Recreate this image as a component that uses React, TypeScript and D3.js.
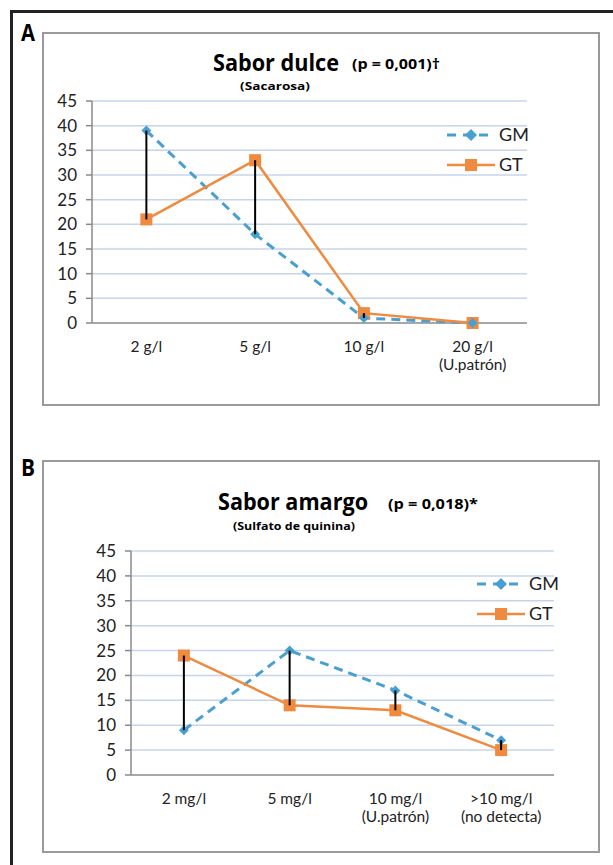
import React from "react";
import { scaleBand, scaleLinear, line } from "d3";

// panel A – sabor dulce
const categoriesA = [["2 g/l"], ["5 g/l"], ["10 g/l"], ["20 g/l", "(U.patrón)"]];
const gmA = [39, 18, 1, 0];
const gtA = [21, 33, 2, 0];

// panel B – sabor amargo
const categoriesB = [["2 mg/l"], ["5 mg/l"], ["10 mg/l", "(U.patrón)"], [">10 mg/l", "(no detecta)"]];
const gmB = [9, 25, 17, 7];
const gtB = [24, 14, 13, 5];

const yTicks = [0, 5, 10, 15, 20, 25, 30, 35, 40, 45];
const seriesNames = ["GM", "GT"];

const BLUE = "#4a9fd2";
const ORANGE = "#ef8a3f";
const GRID = "#c6d4ea";
const AXIS = "#8a8a8a";
const FONT = "Lato, 'Open Sans', sans-serif";
const BOLD = "'Open Sans', Lato, sans-serif";

// bold condensed text squeezed to the measured width
function Squeezed({ x, y, size, width, children }) {
  return (
    <text x={x} y={y} fontFamily={BOLD} fontWeight="bold" fontSize={size} textLength={width} lengthAdjust="spacingAndGlyphs">
      {children}
    </text>
  );
}

function Panel({ letter, letterPos, box, plot, title, pval, sub, cats, gm, gt, legend }) {
  const x = scaleBand().domain(cats.map((c, i) => i)).range([plot.left, plot.right]);
  const y = scaleLinear().domain([0, 45]).range([plot.bottom, plot.top]);
  const cx = (i) => x(i) + x.bandwidth() / 2;
  const path = line().x((d, i) => cx(i)).y((d) => y(d));

  return (
    <g>
      <Squeezed x={letterPos[0]} y={letterPos[1]} size={24} width={14}>{letter}</Squeezed>
      <rect x={box.x} y={box.y} width={box.w} height={box.h} fill="#fff" stroke="#9a9a9a" strokeWidth={2} />
      <Squeezed x={title.x} y={title.y} size={24} width={title.w}>{title.text}</Squeezed>
      <Squeezed x={pval.x} y={pval.y} size={15} width={pval.w}>{pval.text}</Squeezed>
      <Squeezed x={sub.x} y={sub.y} size={11} width={sub.w}>{sub.text}</Squeezed>

      {yTicks.map((t) => (
        <g key={t}>
          {t > 0 && <line x1={plot.left} x2={plot.right} y1={y(t)} y2={y(t)} stroke={GRID} strokeWidth={1.5} />}
          <line x1={plot.left - 6} x2={plot.left} y1={y(t)} y2={y(t)} stroke={AXIS} strokeWidth={1.5} />
          <text x={plot.left - 15} y={y(t)} dy="0.35em" textAnchor="end" fontFamily={FONT} fontSize={17} fill="#222">{t}</text>
        </g>
      ))}
      <line x1={plot.left} x2={plot.left} y1={plot.top} y2={plot.bottom} stroke={AXIS} strokeWidth={1.5} />
      <line x1={plot.left} x2={plot.right} y1={plot.bottom} y2={plot.bottom} stroke={AXIS} strokeWidth={1.5} />

      {cats.map((c, i) => (
        <text key={i} x={cx(i)} y={plot.bottom + 29} textAnchor="middle" fontFamily={FONT} fontSize={15.5} fill="#222">
          {c.map((l, j) => (
            <tspan key={j} x={cx(i)} dy={j === 0 ? 0 : 18}>{l}</tspan>
          ))}
        </text>
      ))}

      <path d={path(gm)} fill="none" stroke={BLUE} strokeWidth={3} strokeDasharray="9,6" />
      <path d={path(gt)} fill="none" stroke={ORANGE} strokeWidth={2.5} />

      {gt.map((v, i) => (
        <rect key={i} x={cx(i) - 6} y={y(v) - 6} width={12} height={12} fill={ORANGE} />
      ))}
      {gm.map((v, i) => (
        <path key={i} d={`M${cx(i)},${y(v) - 5}l5,5l-5,5l-5,-5z`} fill={BLUE} />
      ))}
      {gm.map((v, i) => (
        <line key={i} x1={cx(i)} x2={cx(i)} y1={y(v)} y2={y(gt[i])} stroke="#000" strokeWidth={2} />
      ))}

      {/* legend */}
      <g transform={`translate(${legend[0]},${legend[1]})`}>
        <line x1={0} x2={48} y1={0} y2={0} stroke={BLUE} strokeWidth={3} strokeDasharray="9,7" />
        <path d="M24,-6l6,6l-6,6l-6,-6z" fill={BLUE} />
        <text x={52} y={0} dy="0.35em" fontFamily={FONT} fontSize={18} fill="#222">{seriesNames[0]}</text>
        <line x1={0} x2={48} y1={30} y2={30} stroke={ORANGE} strokeWidth={2.5} />
        <rect x={18} y={24} width={12} height={12} fill={ORANGE} />
        <text x={52} y={30} dy="0.35em" fontFamily={FONT} fontSize={18} fill="#222">{seriesNames[1]}</text>
      </g>
    </g>
  );
}

export default function App() {
  return (
    <svg width={613} height={865} style={{ position: "absolute", left: 0, top: 0, background: "#fff" }}>
      <rect x={11.5} y={11.5} width={640} height={900} fill="#fff" stroke="#222" strokeWidth={3} />
      <Panel
        letter="A"
        letterPos={[21, 41]}
        box={{ x: 43, y: 33, w: 556, h: 372 }}
        plot={{ left: 92, right: 527, top: 101, bottom: 323 }}
        title={{ x: 213, y: 71, w: 126, text: "Sabor dulce" }}
        pval={{ x: 352, y: 69, w: 88, text: "(p = 0,001)†" }}
        sub={{ x: 240, y: 90, w: 70, text: "(Sacarosa)" }}
        cats={categoriesA}
        gm={gmA}
        gt={gtA}
        legend={[447, 135]}
      />
      <Panel
        letter="B"
        letterPos={[21, 476]}
        box={{ x: 43, y: 461, w: 556, h: 391 }}
        plot={{ left: 131, right: 554, top: 551, bottom: 775 }}
        title={{ x: 218, y: 510, w: 150, text: "Sabor amargo" }}
        pval={{ x: 388, y: 509, w: 90, text: "(p = 0,018)*" }}
        sub={{ x: 233, y: 530, w: 122, text: "(Sulfato de quinina)" }}
        cats={categoriesB}
        gm={gmB}
        gt={gtB}
        legend={[477, 584]}
      />
    </svg>
  );
}
